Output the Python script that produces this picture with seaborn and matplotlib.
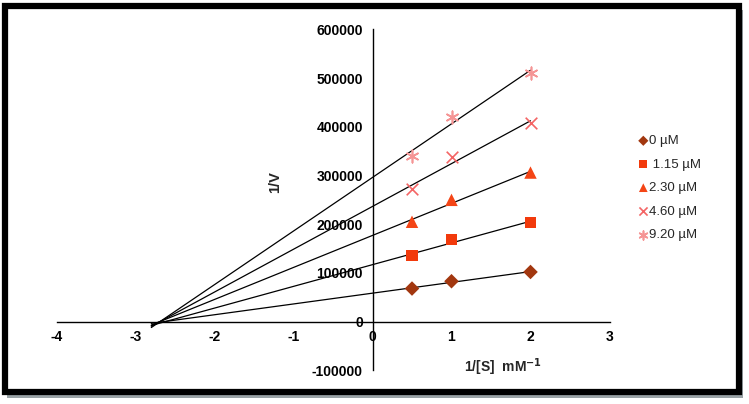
import matplotlib
matplotlib.use("Agg")
import matplotlib.pyplot as plt
from matplotlib.patches import Rectangle
import numpy as np
import pandas as pd
import seaborn as sns

# data
inv_s = [0.5, 1.0, 2.0]
inv_v_0 = [68000, 83000, 102000]
inv_v_115 = [135000, 168000, 204000]
inv_v_230 = [205000, 250000, 306000]
inv_v_460 = [272000, 337000, 408000]
inv_v_920 = [341000, 421000, 511000]
labels = ["0 µM", " 1.15 µM", "2.30 µM", "4.60 µM", "9.20 µM"]
x_ticks = [-4, -3, -2, -1, 0, 1, 2, 3]
y_ticks = [-100000, 0, 100000, 200000, 300000, 400000, 500000, 600000]

series = [inv_v_0, inv_v_115, inv_v_230, inv_v_460, inv_v_920]
colors = ["#A2370F", "#F23A0C", "#F44516", "#F46565", "#F59595"]
markers = ["D", "s", "^", "x", (6, 2, 0)]
sizes = [55, 65, 80, 70, 80]

df = pd.concat(
    [pd.DataFrame(dict(x=inv_s, y=v, inhibitor=lab)) for v, lab in zip(series, labels)],
    ignore_index=True,
)

sns.set_style("white")
plt.rcParams["font.family"] = ["Liberation Sans", "DejaVu Sans"]

W, H = 749, 404
fig = plt.figure(figsize=(W / 100, H / 100), dpi=100)
ax = fig.add_axes([56.5 / W, 1 - 370.4 / H, 553 / W, 341.1 / H])

# axes cross at the origin (set first: set_position resets the ticks)
for s in ["top", "right"]:
    ax.spines[s].set_visible(False)
ax.spines["left"].set_position(("data", 0))
ax.spines["bottom"].set_position(("data", 0))
for s in ["left", "bottom"]:
    ax.spines[s].set_color("black")
    ax.spines[s].set_linewidth(1.0)

# trendlines, backcast to the left
for v in series:
    k, b = np.polyfit(inv_s, v, 1)
    xs = np.array([-2.8, 2.0])
    ax.plot(xs, k * xs + b, color="black", lw=0.9, zorder=2)

for lab, col, mk, sz in zip(labels, colors, markers, sizes):
    sub = df[df["inhibitor"] == lab]
    lw = 1.2 if mk in ("x",) or isinstance(mk, tuple) else 0
    sns.scatterplot(
        data=sub, x="x", y="y", ax=ax, color=col, marker=mk, s=sz,
        linewidth=lw, edgecolor=col if lw else "none", label=lab, zorder=3,
    )

ax.set_xlim(-4, 3)
ax.set_ylim(-100000, 600000)
ax.set_xticks(x_ticks)
ax.set_yticks(y_ticks)
ax.set_xticklabels([str(t) for t in x_ticks], fontweight="bold", fontsize=10)
ax.set_yticklabels([str(t) for t in y_ticks], fontweight="bold", fontsize=10)
ax.tick_params(axis="x", direction="in", length=4, width=1, pad=6, colors="black")
ax.tick_params(axis="y", direction="out", length=4, width=1, pad=3, colors="black")
ax.set_facecolor("white")
ax.set_xlabel("")
ax.set_ylabel("1/V", fontweight="bold", fontsize=10.5)
ax.yaxis.set_label_coords((282 - 56.5) / 553, (370.4 - 182) / 341.1)

fig.text(503 / W, 1 - 367 / H, "1/[S]  mM$^{\\mathbf{-1}}$", ha="center", va="center",
         fontweight="bold", fontsize=10)

ax.legend(
    loc="upper left", bbox_to_anchor=(640 / W, 1 - 135 / H), bbox_transform=fig.transFigure,
    frameon=False, fontsize=9.5, handlelength=0.5, handletextpad=0.15, markerscale=0.7,
    labelspacing=0.85, borderpad=0, borderaxespad=0,
)

# frame around the picture
fig.patches.append(Rectangle((7 / W, 1 - 398 / H), 736 / W, 388 / H, transform=fig.transFigure,
                             facecolor="#9aa3a6", edgecolor="none", zorder=-2))
fig.patches.append(Rectangle((5 / W, 1 - 392 / H), 734 / W, 386 / H, transform=fig.transFigure,
                             facecolor="white", edgecolor="black", lw=4.5, zorder=-1))

fig.savefig("out.png", dpi=100, facecolor="white")
